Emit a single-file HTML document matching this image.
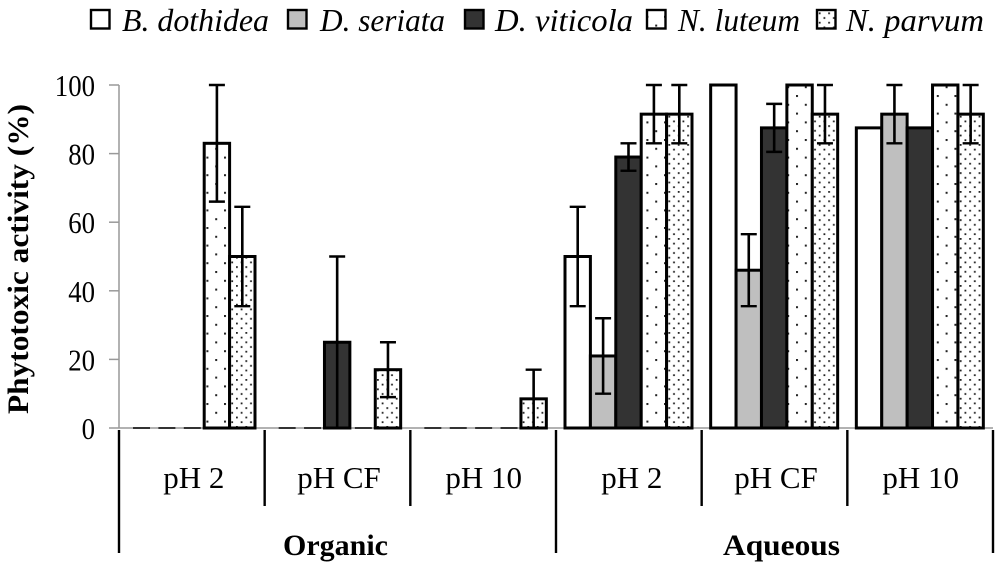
<!DOCTYPE html>
<html lang="en">
<head>
<meta charset="utf-8">
<title>Phytotoxic activity chart</title>
<style>
html,body{margin:0;padding:0;background:#fff;width:1000px;height:565px;overflow:hidden}
svg{display:block;font-family:"Liberation Serif",serif}
</style>
</head>
<body>
<svg id="chart" xmlns="http://www.w3.org/2000/svg" width="1000" height="565" viewBox="0 0 1000 565">
<defs>
<pattern id="sparse" patternUnits="userSpaceOnUse" width="17.6" height="17.6" x="4" y="7">
<rect width="17.6" height="17.6" fill="#fff"/>
<rect x="0" y="0" width="2" height="2" fill="#222"/>
<rect x="8.8" y="8.8" width="2" height="2" fill="#222"/>
</pattern>
<pattern id="dense" patternUnits="userSpaceOnUse" width="9.4" height="9.4" x="1" y="3">
<rect width="9.4" height="9.4" fill="#fff"/>
<rect x="0" y="0" width="1.8" height="1.8" fill="#222"/>
<rect x="4.7" y="4.7" width="1.8" height="1.8" fill="#222"/>
</pattern>
</defs>
<g id="axes"></g>
<g id="plot"></g>
<g id="legend"></g>
<text transform="translate(28,414) rotate(-90)" font-size="30" font-weight="bold" textLength="310" lengthAdjust="spacingAndGlyphs">Phytotoxic activity (%)</text>
</svg>
<script>
const categories = ["pH 2", "pH CF", "pH 10", "pH 2", "pH CF", "pH 10"];
const treatments = ["Organic", "Aqueous"];
const yTicks = [0, 20, 40, 60, 80, 100];
const seriesNames = ["B. dothidea", "D. seriata", "D. viticola", "N. luteum", "N. parvum"];
const dothidea = [0, 0, 0, 50, 100, 87.5];
const seriata = [0, 0, 0, 21, 46, 91.5];
const viticola = [0, 25, 0, 79, 87.5, 87.5];
const luteum = [83, 0, 0, 91.5, 100, 100];
const parvum = [50, 17, 8.5, 91.5, 91.5, 91.5];
const dothideaErr = [0, 0, 0, 14.5, 0, 0];
const seriataErr = [0, 0, 0, 11, 10.5, 8.5];
const viticolaErr = [0, 25, 0, 4, 7, 0];
const luteumErr = [17, 0, 0, 8.5, 0, 0];
const parvumErr = [14.5, 8, 8.5, 8.5, 8.5, 8.5];

const NS = "http://www.w3.org/2000/svg";
const seriesValues = [dothidea, seriata, viticola, luteum, parvum];
const seriesErrors = [dothideaErr, seriataErr, viticolaErr, luteumErr, parvumErr];
const seriesFills = ["#fff", "#bfbfbf", "#333", "url(#sparse)", "url(#dense)"];
const seriesKeys = ["b-dothidea", "d-seriata", "d-viticola", "n-luteum", "n-parvum"];

const x0 = 119, x1 = 993, y0 = 428, y100 = 85;
const groupW = (x1 - x0) / categories.length;
const barW = 25.4, barPad = 9;
const yScale = v => y0 - (v / 100) * (y0 - y100);
const groupX = g => x0 + g * groupW;
const barX = (g, s) => groupX(g) + barPad + s * barW;

function make(tag, attrs, parent) {
  const el = document.createElementNS(NS, tag);
  for (const k in attrs) el.setAttribute(k, attrs[k]);
  parent.appendChild(el);
  return el;
}
const plot = document.getElementById("plot");
const axes = document.getElementById("axes");
const legend = document.getElementById("legend");

/* axis lines */
const yAxis = make("line", {x1: x0, x2: x0, y1: y100, y2: y0, stroke: "#999", "stroke-width": 1.5}, axes);


const xAxis = make("line", {x1: x0, x2: x1, y1: y0, y2: y0, stroke: "#999", "stroke-width": 1.5}, axes);



yTicks.forEach(t => {
  const y = yScale(t);
  const tick = make("line", {x1: x0 - 10, x2: x0, y1: y, y2: y, stroke: "#999", "stroke-width": 1.5}, axes);
  
  
  const label = make("text", {x: 95, y: y + 11, "text-anchor": "end", "font-size": 31, textLength: String(t).length * 13.4, lengthAdjust: "spacingAndGlyphs"}, axes);
  
  
  label.textContent = t;
});

/* group separators and labels */
for (let g = 0; g <= categories.length; g++) {
  const long = g % 3 === 0;
  const sep = make("line", {x1: groupX(g), x2: groupX(g), y1: 430, y2: long ? 553 : 506, stroke: "#000", "stroke-width": 2.4}, axes);
  
  
}
const labelNudge = g => (g === 3 ? 3 : g === 0 ? 2 : g === 1 || g === 4 ? 1.5 : 0.5);
categories.forEach((c, g) => {
  const label = make("text", {x: groupX(g) + groupW / 2 + labelNudge(g), y: 488, "text-anchor": "middle", "font-size": 31}, axes);
  
  
  label.textContent = c;
});
treatments.forEach((t, i) => {
  const label = make("text", {x: i === 0 ? 335.5 : 781.5, y: 555, "text-anchor": "middle", "font-size": 30, "font-weight": "bold", textLength: i === 0 ? 105 : 117, lengthAdjust: "spacingAndGlyphs"}, axes);
  
  
  label.textContent = t;
});

/* bars */
seriesValues.forEach((vals, s) => {
  vals.forEach((v, g) => {
    const x = barX(g, s);
    if (v === 0) {
      const dash = make("line", {x1: x + 5, x2: x + 22, y1: y0, y2: y0, stroke: "#333", "stroke-width": 2}, plot);
      
      
      return;
    }
    const bar = make("rect", {x: x, y: yScale(v), width: barW, height: y0 - yScale(v), fill: seriesFills[s], stroke: "#000", "stroke-width": 3}, plot);
    
    
  });
});

/* error bars */
seriesValues.forEach((vals, s) => {
  vals.forEach((v, g) => {
    const e = seriesErrors[s][g];
    if (!e) return;
    const cx = barX(g, s) + barW / 2;
    const top = yScale(Math.min(100, v + e));
    const bot = yScale(Math.max(0, v - e));
    const stem = make("line", {x1: cx, x2: cx, y1: top, y2: bot, stroke: "#000", "stroke-width": 2.6}, plot);
    
    
    [top, bot].forEach(y => {
      if (y === y0) return;
      const cap = make("line", {x1: cx - 8, x2: cx + 8, y1: y, y2: y, stroke: "#000", "stroke-width": 2.4}, plot);
      
      
    });
  });
});

/* legend */
const swatchX = [91, 288, 465, 647, 817];
const labelX = [122, 320, 495, 678, 846];
const labelW = [147, 125, 138, 122, 138];
seriesNames.forEach((n, s) => {
  const sw = make("rect", {x: swatchX[s], y: 10, width: 18.5, height: 18.5, fill: seriesFills[s], stroke: "#000", "stroke-width": 2.4}, legend);
  
  
  const label = make("text", {x: labelX[s], y: 31, "font-size": 32, "font-style": "italic", textLength: labelW[s], lengthAdjust: "spacingAndGlyphs"}, legend);
  
  
  label.textContent = n;
});
</script>
</body>
</html>
